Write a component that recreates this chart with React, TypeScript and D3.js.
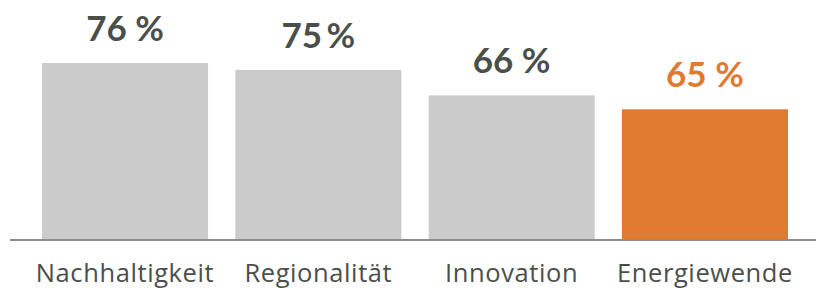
import React from "react";
import * as d3 from "d3";

const categories = ["Nachhaltigkeit", "Regionalität", "Innovation", "Energiewende"];
const barValues = [76, 73, 62, 56];
const valueLabels = ["76 %", "75\u2009%", "66 %", "65 %"];
const highlight = [false, false, false, true];

const W = 816;
const H = 288;

export default function App() {
  const x = d3.scaleBand<string>().domain(categories).range([42, 788]).paddingInner(0.141).paddingOuter(0);
  const y = d3.scaleLinear().domain([0, 76]).range([239, 63]);
  const grey = "#cbcbcb";
  const orange = "#df7a30";
  const text = "#4b4f4b";
  return (
    <svg width={W} height={H} style={{ position: "absolute", left: 0, top: 0 }}>
      {categories.map((c, i) => (
        <rect
          key={c}
          x={x(c)}
          y={y(barValues[i])}
          width={x.bandwidth()}
          height={y(0) - y(barValues[i])}
          fill={highlight[i] ? orange : grey}
        />
      ))}
      <line x1={10} x2={816} y1={240} y2={240} stroke="#8a8d88" strokeWidth={2} />
      {categories.map((c, i) => (
        <text
          key={"v" + c}
          x={(x(c) as number) + x.bandwidth() / 2}
          y={y(barValues[i]) - 22}
          textAnchor="middle"
          fontFamily="Lato"
          fontWeight={700}
          fontSize={35}
          fill={highlight[i] ? orange : text}
        >
          {valueLabels[i]}
        </text>
      ))}
      {categories.map((c) => (
        <text
          key={"c" + c}
          x={(x(c) as number) + x.bandwidth() / 2}
          y={282}
          textAnchor="middle"
          fontFamily="Open Sans"
          fontSize={25.5}
          letterSpacing={0.6}
          fill={text}
        >
          {c}
        </text>
      ))}
    </svg>
  );
}
